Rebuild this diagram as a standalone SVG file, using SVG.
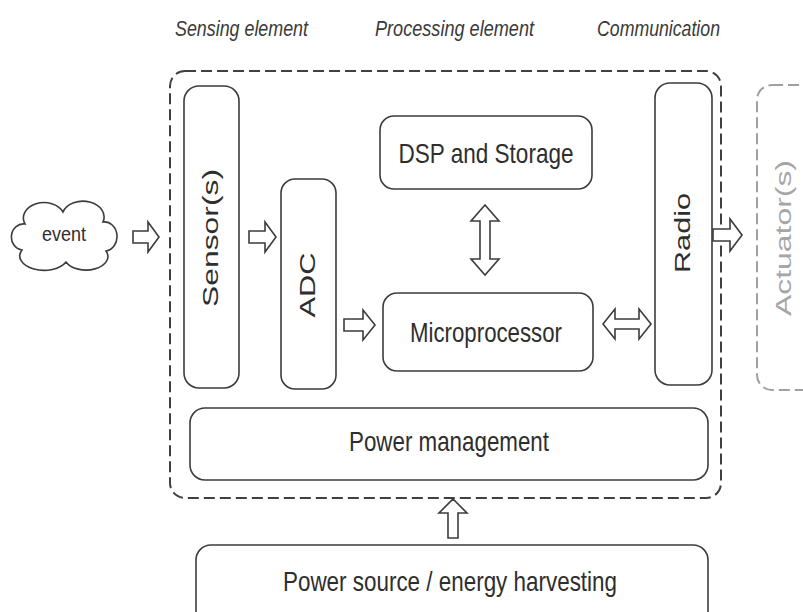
<svg xmlns="http://www.w3.org/2000/svg" width="803" height="612" viewBox="0 0 803 612">
  <defs>
    <style>
      .box { fill: #ffffff; stroke: #3c3c3c; stroke-width: 1.6; }
      .frame { fill: none; stroke: #404040; stroke-width: 2; stroke-dasharray: 11 5; }
      .ghost { fill: none; stroke: #a0a0a0; stroke-width: 2; stroke-dasharray: 11 5; }
      .arrow { fill: #ffffff; stroke: #3c3c3c; stroke-width: 1.6; stroke-linejoin: miter; }
      .label { font-family: "Liberation Sans", Arial, sans-serif; font-size: 28px; fill: #2e2e2e; text-anchor: middle; }
      .vlabel { font-family: "Liberation Sans", Arial, sans-serif; font-size: 22px; fill: #2e2e2e; text-anchor: middle; }
      .head { font-family: "Liberation Sans", Arial, sans-serif; font-size: 22px; font-style: italic; fill: #3a3a3a; }
      .faint { fill: #a6a6a6; }
    </style>
  </defs>

  <rect width="803" height="612" fill="#ffffff"/>

  <!-- column headings -->
  <g id="headings">
    <text class="head" x="175" y="36" textLength="133" lengthAdjust="spacingAndGlyphs">Sensing element</text>
    <text class="head" x="375" y="36" textLength="159" lengthAdjust="spacingAndGlyphs">Processing element</text>
    <text class="head" x="597" y="36" textLength="123" lengthAdjust="spacingAndGlyphs">Communication</text>
  </g>

  <!-- sensor node boundary -->
  <g id="node-boundary">
    <rect class="frame" x="170" y="71" width="551" height="427" rx="15"/>
  </g>

  <g id="event">
    <path class="box" d="M22,250 A12,13 0 0 1 25,224 A20,15 0 0 1 63,212 A20,15 0 0 1 103,222 A12,14 0 0 1 106,251 A21,13 0 0 1 66,262 A22,13 0 0 1 22,250 Z"/>
    <text class="label" x="64" y="241" style="font-size:21px" textLength="44" lengthAdjust="spacingAndGlyphs">event</text>
  </g>

  <g id="sensors">
    <rect class="box" x="184" y="86" width="55" height="302" rx="15"/>
    <text class="vlabel" transform="translate(218,238) rotate(-90)" x="0" y="0" textLength="138" lengthAdjust="spacingAndGlyphs">Sensor(s)</text>
  </g>

  <g id="adc">
    <rect class="box" x="281" y="179" width="55" height="210" rx="14"/>
    <text class="vlabel" transform="translate(315,285) rotate(-90)" x="0" y="0" textLength="65" lengthAdjust="spacingAndGlyphs">ADC</text>
  </g>

  <g id="dsp-storage">
    <rect class="box" x="380" y="116" width="212" height="73" rx="14"/>
    <text class="label" x="486" y="163" textLength="175" lengthAdjust="spacingAndGlyphs">DSP and Storage</text>
  </g>

  <g id="microprocessor">
    <rect class="box" x="383" y="293" width="210" height="78" rx="14"/>
    <text class="label" x="486" y="342" textLength="152" lengthAdjust="spacingAndGlyphs">Microprocessor</text>
  </g>

  <g id="radio">
    <rect class="box" x="655" y="83" width="57" height="302" rx="15"/>
    <text class="vlabel" transform="translate(690,233) rotate(-90)" x="0" y="0" textLength="80" lengthAdjust="spacingAndGlyphs">Radio</text>
  </g>

  <g id="actuators">
    <rect class="ghost" x="757" y="85" width="70" height="305" rx="15"/>
    <text class="vlabel faint" transform="translate(791,238) rotate(-90)" x="0" y="0" textLength="156" lengthAdjust="spacingAndGlyphs">Actuator(s)</text>
  </g>

  <g id="power-management">
    <rect class="box" x="190" y="408" width="518" height="72" rx="15"/>
    <text class="label" x="449" y="451" textLength="200" lengthAdjust="spacingAndGlyphs">Power management</text>
  </g>

  <g id="power-source">
    <rect class="box" x="196" y="545" width="512" height="90" rx="15"/>
    <text class="label" x="450" y="591" textLength="334" lengthAdjust="spacingAndGlyphs">Power source / energy harvesting</text>
  </g>

  <!-- hollow block arrows -->
  <g id="connectors">
    <!-- event to sensors -->
    <path class="arrow" d="M133,231 H148 V222 L159,237 L148,252 V243 H133 Z"/>
    <!-- sensors to ADC -->
    <path class="arrow" d="M249,231 H265 V222 L276,237 L265,252 V243 H249 Z"/>
    <!-- ADC to microprocessor -->
    <path class="arrow" d="M344,319 H363 V310 L375,325 L363,340 V331 H344 Z"/>
    <!-- radio to actuators -->
    <path class="arrow" d="M713,229 H730 V219 L742,235 L730,251 V241 H713 Z"/>
    <!-- microprocessor to radio (two-way) -->
    <path class="arrow" d="M603,324 L615,309 V319 H639 V309 L651,324 L639,339 V329 H615 V339 Z"/>
    <!-- DSP and storage to microprocessor (two-way) -->
    <path class="arrow" d="M485,205 L499,221 H490 V259 H499 L485,275 L471,259 H480 V221 H471 Z"/>
    <!-- power source up to power management -->
    <path class="arrow" d="M453,499 L467,513 H458 V538 H448 V513 H439 Z"/>
  </g>
</svg>
